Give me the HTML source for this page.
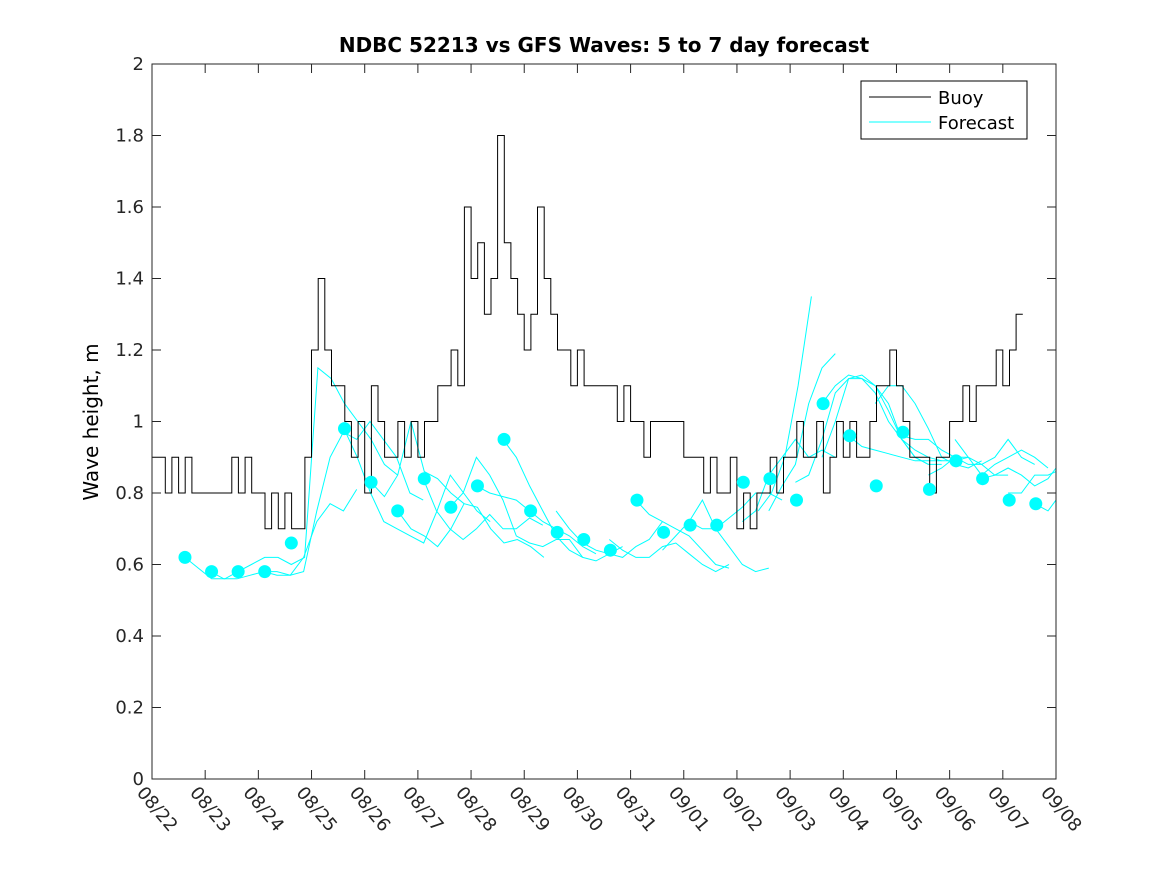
<!DOCTYPE html>
<html><head><meta charset="utf-8"><style>
body{margin:0;background:#fff;}
svg{display:block;font-family:"DejaVu Sans","Liberation Sans",sans-serif;}
</style></head><body>
<svg id="chart" width="1167" height="875" xmlns="http://www.w3.org/2000/svg">
<text x="604" y="52" text-anchor="middle" font-size="20" font-weight="bold">NDBC 52213 vs GFS Waves: 5 to 7 day forecast</text>
<text transform="translate(98,422) rotate(-90)" text-anchor="middle" font-size="20">Wave height, m</text>
<g id="plot"></g>
<g>
<rect x="861" y="81" width="166" height="58" fill="#fff" stroke="#000" stroke-width="1"/>
<line x1="869" y1="97" x2="931" y2="97" stroke="#000"/>
<text x="938" y="104" font-size="18">Buoy</text>
<line x1="869" y1="122" x2="931" y2="122" stroke="#00ffff"/>
<text x="938" y="129" font-size="18">Forecast</text>
</g>
</svg>
<script>
const xTickLabels=["08/22","08/23","08/24","08/25","08/26","08/27","08/28","08/29","08/30","08/31","09/01","09/02","09/03","09/04","09/05","09/06","09/07","09/08"];
const yTicks=[0,0.2,0.4,0.6,0.8,1,1.2,1.4,1.6,1.8,2];
const buoyStep=0.125;
const buoy=[0.9,0.9,0.8,0.9,0.8,0.9,0.8,0.8, 0.8,0.8,0.8,0.8,0.9,0.8,0.9,0.8, 0.8,0.7,0.8,0.7,0.8,0.7,0.7,0.9,
1.2,1.4,1.2,1.1,1.1,1.0,0.9,1.0, 0.8,1.1,1.0,0.9,0.9,1.0,0.9,1.0, 0.9,1.0,1.0,1.1,1.1,1.2,1.1,1.6,
1.4,1.5,1.3,1.4,1.8,1.5,1.4,1.3, 1.2,1.3,1.6,1.4,1.3,1.2,1.2,1.1, 1.2,1.1,1.1,1.1,1.1,1.1,1.0,1.1,
1.0,1.0,0.9,1.0,1.0,1.0,1.0,1.0, 0.9,0.9,0.9,0.8,0.9,0.8,0.8,0.9, 0.7,0.8,0.7,0.8,0.8,0.9,0.8,0.9,
0.9,1.0,0.9,0.9,1.0,0.8,0.9,1.0, 0.9,1.0,0.9,0.9,1.0,1.1,1.1,1.2, 1.1,1.0,0.9,0.9,0.9,0.8,0.9,0.9,
1.0,1.0,1.1,1.0,1.1,1.1,1.1,1.2, 1.1,1.2,1.3];
const dotStart=0.62;
const dots=[0.62,0.58,0.58,0.58,0.66,null,0.98,0.83,0.75,0.84,0.76,0.82,0.95,0.75,0.69,0.67,0.64,0.78,0.69,0.71,0.71,0.83,0.84,0.78,1.05,0.96,0.82,0.97,0.81,0.89,0.84,0.78,0.77];
const fcStep=0.25;
const fcStarts=[0.62,1.1,2.1,3.61,4.12,4.62,5.1,5.6,6.1,6.6,7.6,8.6,9.6,9.1,10.1,11.1,11.4,11.6,12.1,12.6,12.6,13.1,13.6,14.1,14.6,15.1,15.6,16.1,16.6];
const fcValues=[
[0.62,0.59,0.56,0.56,0.58,0.6,0.62,0.62,0.6,0.62,1.15,1.12,1.05,1.0,0.95,0.88,0.85],
[0.58,0.56,0.56,0.57,0.58,0.58,0.57,0.58,0.75,0.9,0.97,0.95,1.0,0.95,0.9,0.8,0.78],
[0.58,0.57,0.57,0.62,0.72,0.77,0.75,0.81],
[0.98,0.9,0.8,0.72,0.7,0.68,0.66,0.75,0.85,0.8,0.75,0.72],
[0.83,0.79,0.85,1.0,0.86,0.84,0.8,0.77],
[0.75,0.7,0.68,0.65,0.7,0.77,0.76,0.7,0.66,0.67,0.65,0.62],
[0.84,0.75,0.7,0.67,0.7,0.74,0.7,0.7,0.73,0.71],
[0.76,0.8,0.9,0.85,0.78,0.68,0.66,0.65,0.67,0.67,0.62],
[0.82,0.8,0.79,0.78,0.75,0.72,0.7,0.68,0.65,0.63],
[0.95,0.9,0.82,0.75,0.68,0.64,0.62,0.61,0.63,0.65],
[0.75,0.7,0.66,0.64,0.63,0.62,0.65,0.67,0.72],
[0.67,0.64,0.62,0.62,0.65,0.66,0.63,0.6,0.58,0.6],
[0.64,0.68,0.72,0.78,0.7,0.65,0.6,0.58,0.59],
[0.78,0.74,0.72,0.7,0.68,0.64,0.6,0.59],
[0.72,0.7,0.7,0.73,0.76,0.8,0.8,0.78],
[0.72,0.75,0.85,0.9,0.95,0.9,0.92,0.9],
[0.75,0.8,0.9,1.1,1.35],
[0.75,0.82,0.88,1.05,1.15,1.19],
[0.83,0.85,0.95,1.08,1.12,1.12,1.1,1.03,0.95,0.9,0.88],
[1.05,1.1,1.13,1.12,1.08,1.0,0.95,0.9,0.88,0.88],
[0.9,1.0,1.12,1.13,1.1,1.05,0.95,0.92,0.9,0.89],
[0.96,0.93,0.92,0.91,0.9,0.89,0.89,0.89,0.89,0.9],
[1.05,1.1,1.1,1.05,0.98,0.9,0.88,0.87,0.89],
[0.96,0.95,0.95,0.92,0.9,0.88,0.88,0.85,0.85],
[0.85,0.87,0.9,0.9,0.88,0.9,0.95,0.9,0.88],
[0.95,0.9,0.85,0.88,0.9,0.92,0.9,0.87],
[0.84,0.85,0.87,0.85,0.82,0.84,0.87,0.88,0.9],
[0.8,0.8,0.85,0.85,0.86,0.88,0.95],
[0.77,0.75,0.78,0.8,0.8]];

const L=152,R=1056,T=64,B=779,NS="http://www.w3.org/2000/svg";
const xMax=xTickLabels.length-1;
const X=t=>L+(R-L)*t/xMax;
const Y=v=>B-(B-T)*v/2;
const plot=document.getElementById('plot');
function mk(tag,attrs){const e=document.createElementNS(NS,tag);for(const k in attrs)e.setAttribute(k,attrs[k]);return e;}

fcValues.forEach((vals,i)=>{
  const pts=vals.map((v,j)=>{const t=Math.min(fcStarts[i]+j*fcStep,xMax);return X(t).toFixed(1)+','+Y(v).toFixed(1);}).join(' ');
  const pl=mk('polyline',{points:pts,fill:'none',stroke:'#00ffff','stroke-width':1});
  
  
  plot.appendChild(pl);
});
let d='';
buoy.forEach((v,i)=>{const x0=X(i*buoyStep),x1=X((i+1)*buoyStep),y=Y(v);d+=(i?'L':'M')+x0.toFixed(1)+','+y.toFixed(1)+'L'+x1.toFixed(1)+','+y.toFixed(1);});
const bl=mk('path',{d:d,fill:'none',stroke:'#000','stroke-width':1});


plot.appendChild(bl);
dots.forEach((v,i)=>{
  if(v===null)return;
  const c=mk('circle',{cx:X(dotStart+i*0.5),cy:Y(v),r:6.5,fill:'#00ffff'});
  
  
  plot.appendChild(c);
});
const box=mk('rect',{x:L,y:T,width:R-L,height:B-T,fill:'none',stroke:'#262626','stroke-width':1});


plot.appendChild(box);
yTicks.forEach(v=>{
  const y=Y(v);
  plot.appendChild(mk('line',{x1:L,y1:y,x2:L+9,y2:y,stroke:'#262626'}));
  plot.appendChild(mk('line',{x1:R,y1:y,x2:R-9,y2:y,stroke:'#262626'}));
  const t=mk('text',{x:L-8,y:y+6,'text-anchor':'end','font-size':18,fill:'#262626'});
  t.textContent=String(v);
  
  
  plot.appendChild(t);
});
xTickLabels.forEach((lab,i)=>{
  const x=X(i);
  plot.appendChild(mk('line',{x1:x,y1:B,x2:x,y2:B-9,stroke:'#262626'}));
  plot.appendChild(mk('line',{x1:x,y1:T,x2:x,y2:T+9,stroke:'#262626'}));
  const t=mk('text',{transform:`translate(${x-16},${B+14}) rotate(50)`,'font-size':18,fill:'#262626'});
  t.textContent=lab;
  
  
  plot.appendChild(t);
});
</script>
</body></html>
